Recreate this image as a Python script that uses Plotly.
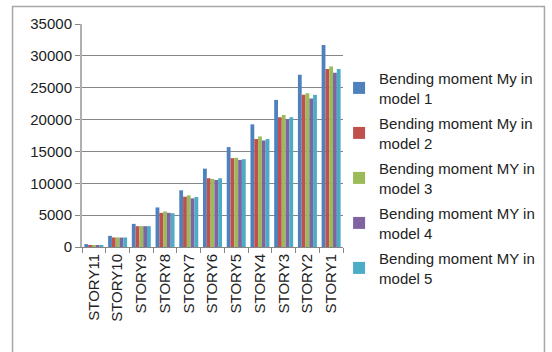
import plotly.graph_objects as go

stories = ["STORY11", "STORY10", "STORY9", "STORY8", "STORY7", "STORY6",
           "STORY5", "STORY4", "STORY3", "STORY2", "STORY1"]

model1 = [450, 1750, 3630, 6210, 8900, 12300, 15680, 19250, 23090, 27030, 31700]
model2 = [250, 1500, 3270, 5360, 7890, 10790, 13940, 16940, 20350, 23880, 27920]
model3 = [250, 1500, 3270, 5580, 8100, 10680, 14000, 17350, 20720, 24130, 28340]
model4 = [230, 1480, 3270, 5360, 7630, 10520, 13670, 16720, 20090, 23300, 27350]
model5 = [230, 1500, 3270, 5300, 7840, 10790, 13780, 16940, 20350, 23880, 27920]

names = ["Bending moment My in<br>model 1", "Bending moment My in<br>model 2",
         "Bending moment MY in<br>model 3", "Bending moment MY in<br>model 4",
         "Bending moment MY in<br>model 5"]
colors = ["#4F81BD", "#C0504D", "#9BBB59", "#8064A2", "#4BACC6"]

fig = go.Figure()
for i, (vals, name, col) in enumerate(zip([model1, model2, model3, model4, model5], names, colors)):
    fig.add_trace(go.Bar(x=stories, y=vals, name=name, marker_color=col,
                         marker_line_width=0, legendgroup=f"g{i}"))

FONT = "Liberation Sans, Arial, sans-serif"

fig.update_layout(
    width=552, height=352,
    margin=dict(l=82, r=207, t=24, b=105),
    paper_bgcolor="white", plot_bgcolor="white",
    barmode="group", bargap=0.2, bargroupgap=0,
    font=dict(family=FONT, size=15, color="#222222"),
    showlegend=True,
    legend=dict(x=0.985, y=0.83, xanchor="left", yanchor="top",
                font=dict(size=15, color="#222222"), maxheight=330,
                tracegroupgap=3, bgcolor="rgba(0,0,0,0)"),
    xaxis=dict(tickangle=-90, showgrid=False, showline=True, linecolor="#868686",
               ticks="outside", ticklen=5, tickcolor="#868686",
               tickson="boundaries", tickfont=dict(size=15, color="#222222")),
    yaxis=dict(range=[0, 35000], dtick=5000, tickformat="d", showgrid=True,
               gridcolor="#868686", gridwidth=1, showline=True,
               linecolor="#B0B0B0", linewidth=2,
               ticks="outside", ticklen=5, tickcolor="#868686",
               tickfont=dict(size=15, color="#222222"), zeroline=False),
)

# outer chart frame
fig.add_shape(type="rect", xref="paper", yref="paper",
              x0=(12 - 82) / 263, x1=(548 - 82) / 263,
              y0=(247 - 370) / 222.5, y1=(247 - 7) / 222.5,
              line=dict(color="#A6A6A6", width=1.5), layer="below")

fig.write_html("out.html")
